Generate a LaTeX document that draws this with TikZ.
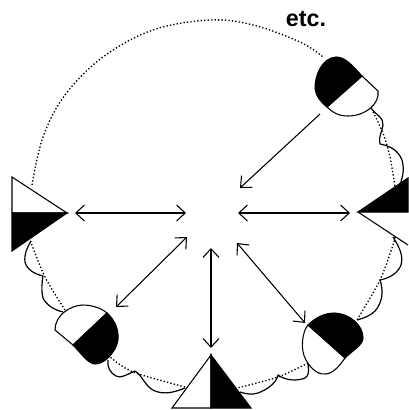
\documentclass[tikz,border=0pt]{standalone}
\usepackage{fontspec}
\setmainfont{Liberation Sans}
\usetikzlibrary{arrows.meta}
\tikzset{
  px/.style={x=0.75pt,y=-0.75pt},
  link/.style={line width=0.8pt,{Straight Barb[length=6.5pt,width=12pt]}-{Straight Barb[length=6.5pt,width=12pt]}},
  oneway/.style={line width=0.8pt,-{Straight Barb[length=6.5pt,width=12pt]}},
  edge/.style={line width=0.8pt,line join=round},
  dotline/.style={line width=1pt,dash pattern=on 1pt off 1.6pt},
  scallop/.style={line width=0.9pt,line join=round},
  blackpart/.style={fill=black,draw=black,line width=0.8pt},
  whitepart/.style={fill=white,draw=black,line width=0.8pt}
}
\begin{document}
\begin{tikzpicture}[px]
\fill[white] (0,0) rectangle (408,410);
\useasboundingbox (0,0) rectangle (408,410);
% dotted ring
\draw[dotline] plot[smooth,tension=0.6] coordinates {(32,185)(43,137)(65,95)(103,57)(153,30)(210,20)(253,25)(300,42)(323,57)};
\draw[dotline] plot[smooth] coordinates {(373,112)(383,133)(390,157)(395,187)};
\draw[dotline] plot[smooth] coordinates {(395,237)(393,245)(380,280)(357,320)};
\draw[dotline] plot[smooth] coordinates {(308,363)(278,377)(237,388)};
\draw[dotline] plot[smooth] coordinates {(185,387)(133,372)(110,357)};
\draw[dotline] plot[smooth] coordinates {(65,310)(45,277)(30,240)};
% scallops
\draw[scallop] (370,107) .. controls (376,115) and (384,118) .. (383,125) .. controls (382,132) and (378,138) .. (380,144) .. controls (390,146) and (398,150) .. (402,160) .. controls (405,170) and (402,180) .. (399,187);
\draw[scallop] (393,237) .. controls (398,245) and (404,255) .. (401,265) .. controls (398,273) and (390,278) .. (380,280) .. controls (384,292) and (382,303) .. (375,311) .. controls (370,316) and (364,318) .. (357,320);
\draw[scallop] (308,364) .. controls (309,370) and (309,376) .. (305,378) .. controls (298,381) and (286,381) .. (278,375) .. controls (276,384) and (266,390) .. (258,393) .. controls (252,395) and (246,394) .. (240,392);
\draw[scallop] (185,388) .. controls (175,392) and (165,395) .. (155,391) .. controls (145,387) and (143,376) .. (135,371) .. controls (128,374) and (120,379) .. (116,376) .. controls (110,373) and (107,367) .. (108,360);
\draw[scallop] (63,312) .. controls (55,310) and (47,306) .. (43,298) .. controls (41,290) and (42,282) .. (43,276) .. controls (35,274) and (27,270) .. (25,262) .. controls (24,254) and (27,248) .. (31,241);
% left speaker
\coordinate (lt) at (67,213);
\filldraw[whitepart,line join=miter] (12,213) -- (12,177) -- (lt) -- cycle;
\filldraw[blackpart] (12,213) -- (lt) -- (12,251) -- cycle;
% bottom speaker
\coordinate (bt) at (211,355);
\filldraw[whitepart] (172,408) -- (bt) -- (211,408) -- cycle;
\filldraw[blackpart] (211,408) -- (bt) -- (251,408) -- cycle;
% right speaker
\coordinate (rt) at (358,212);
\filldraw[blackpart] (rt) -- (408,178) -- (408,212) -- cycle;
\draw[edge] (rt) -- (408,245);
% top-right capsule
\filldraw[whitepart] (362,76) -- (378,91) .. controls (380,104) and (365,116) .. (348,116) .. controls (338,116) and (332,112) .. (327,107) -- cycle;
\filldraw[blackpart] (362,76) .. controls (352,65) and (345,57) .. (336,57) .. controls (322,58) and (315,75) .. (315,88) .. controls (316,97) and (321,102) .. (327,107) -- cycle;
% bottom-right capsule
\filldraw[whitepart] (308,325) .. controls (302,332) and (300,350) .. (306,360) .. controls (312,371) and (320,375) .. (326,374) .. controls (334,373) and (340,365) .. (345,358) -- cycle;
\filldraw[blackpart] (308,325) .. controls (316,317) and (325,313) .. (335,313) .. controls (350,314) and (363,325) .. (363,338) .. controls (363,345) and (352,351) .. (345,358) -- cycle;
% lower-left capsule
\filldraw[whitepart] (107,313) .. controls (100,307) and (90,305) .. (82,305) .. controls (70,306) and (55,315) .. (55,330) -- (73,345) -- cycle;
\filldraw[blackpart] (107,313) .. controls (115,320) and (119,330) .. (118,340) .. controls (116,352) and (105,364) .. (95,364) .. controls (88,364) and (80,352) .. (73,345) -- cycle;
% arrow ends
\coordinate (a1) at (75,213);
\coordinate (a2) at (186,213);
\coordinate (b1) at (238,213);
\coordinate (b2) at (350,213);
\coordinate (c1) at (116,307);
\coordinate (c2) at (187,237);
\coordinate (d1) at (211,248);
\coordinate (d2) at (211,348);
\coordinate (e1) at (237,243);
\coordinate (e2) at (305,323);
\coordinate (f1) at (320,114);
\coordinate (f2) at (240,188);
\draw[link] (a1) -- (a2);
\draw[link] (b1) -- (b2);
\draw[link] (c1) -- (c2);
\draw[link] (d1) -- (d2);
\draw[link] (e1) -- (e2);
\draw[oneway] (f1) -- (f2);
\node[font=\bfseries,anchor=base,inner sep=0pt] (etc) at (306,27) {\fontsize{17.5pt}{20pt}\selectfont etc.};
\end{tikzpicture}
\end{document}
